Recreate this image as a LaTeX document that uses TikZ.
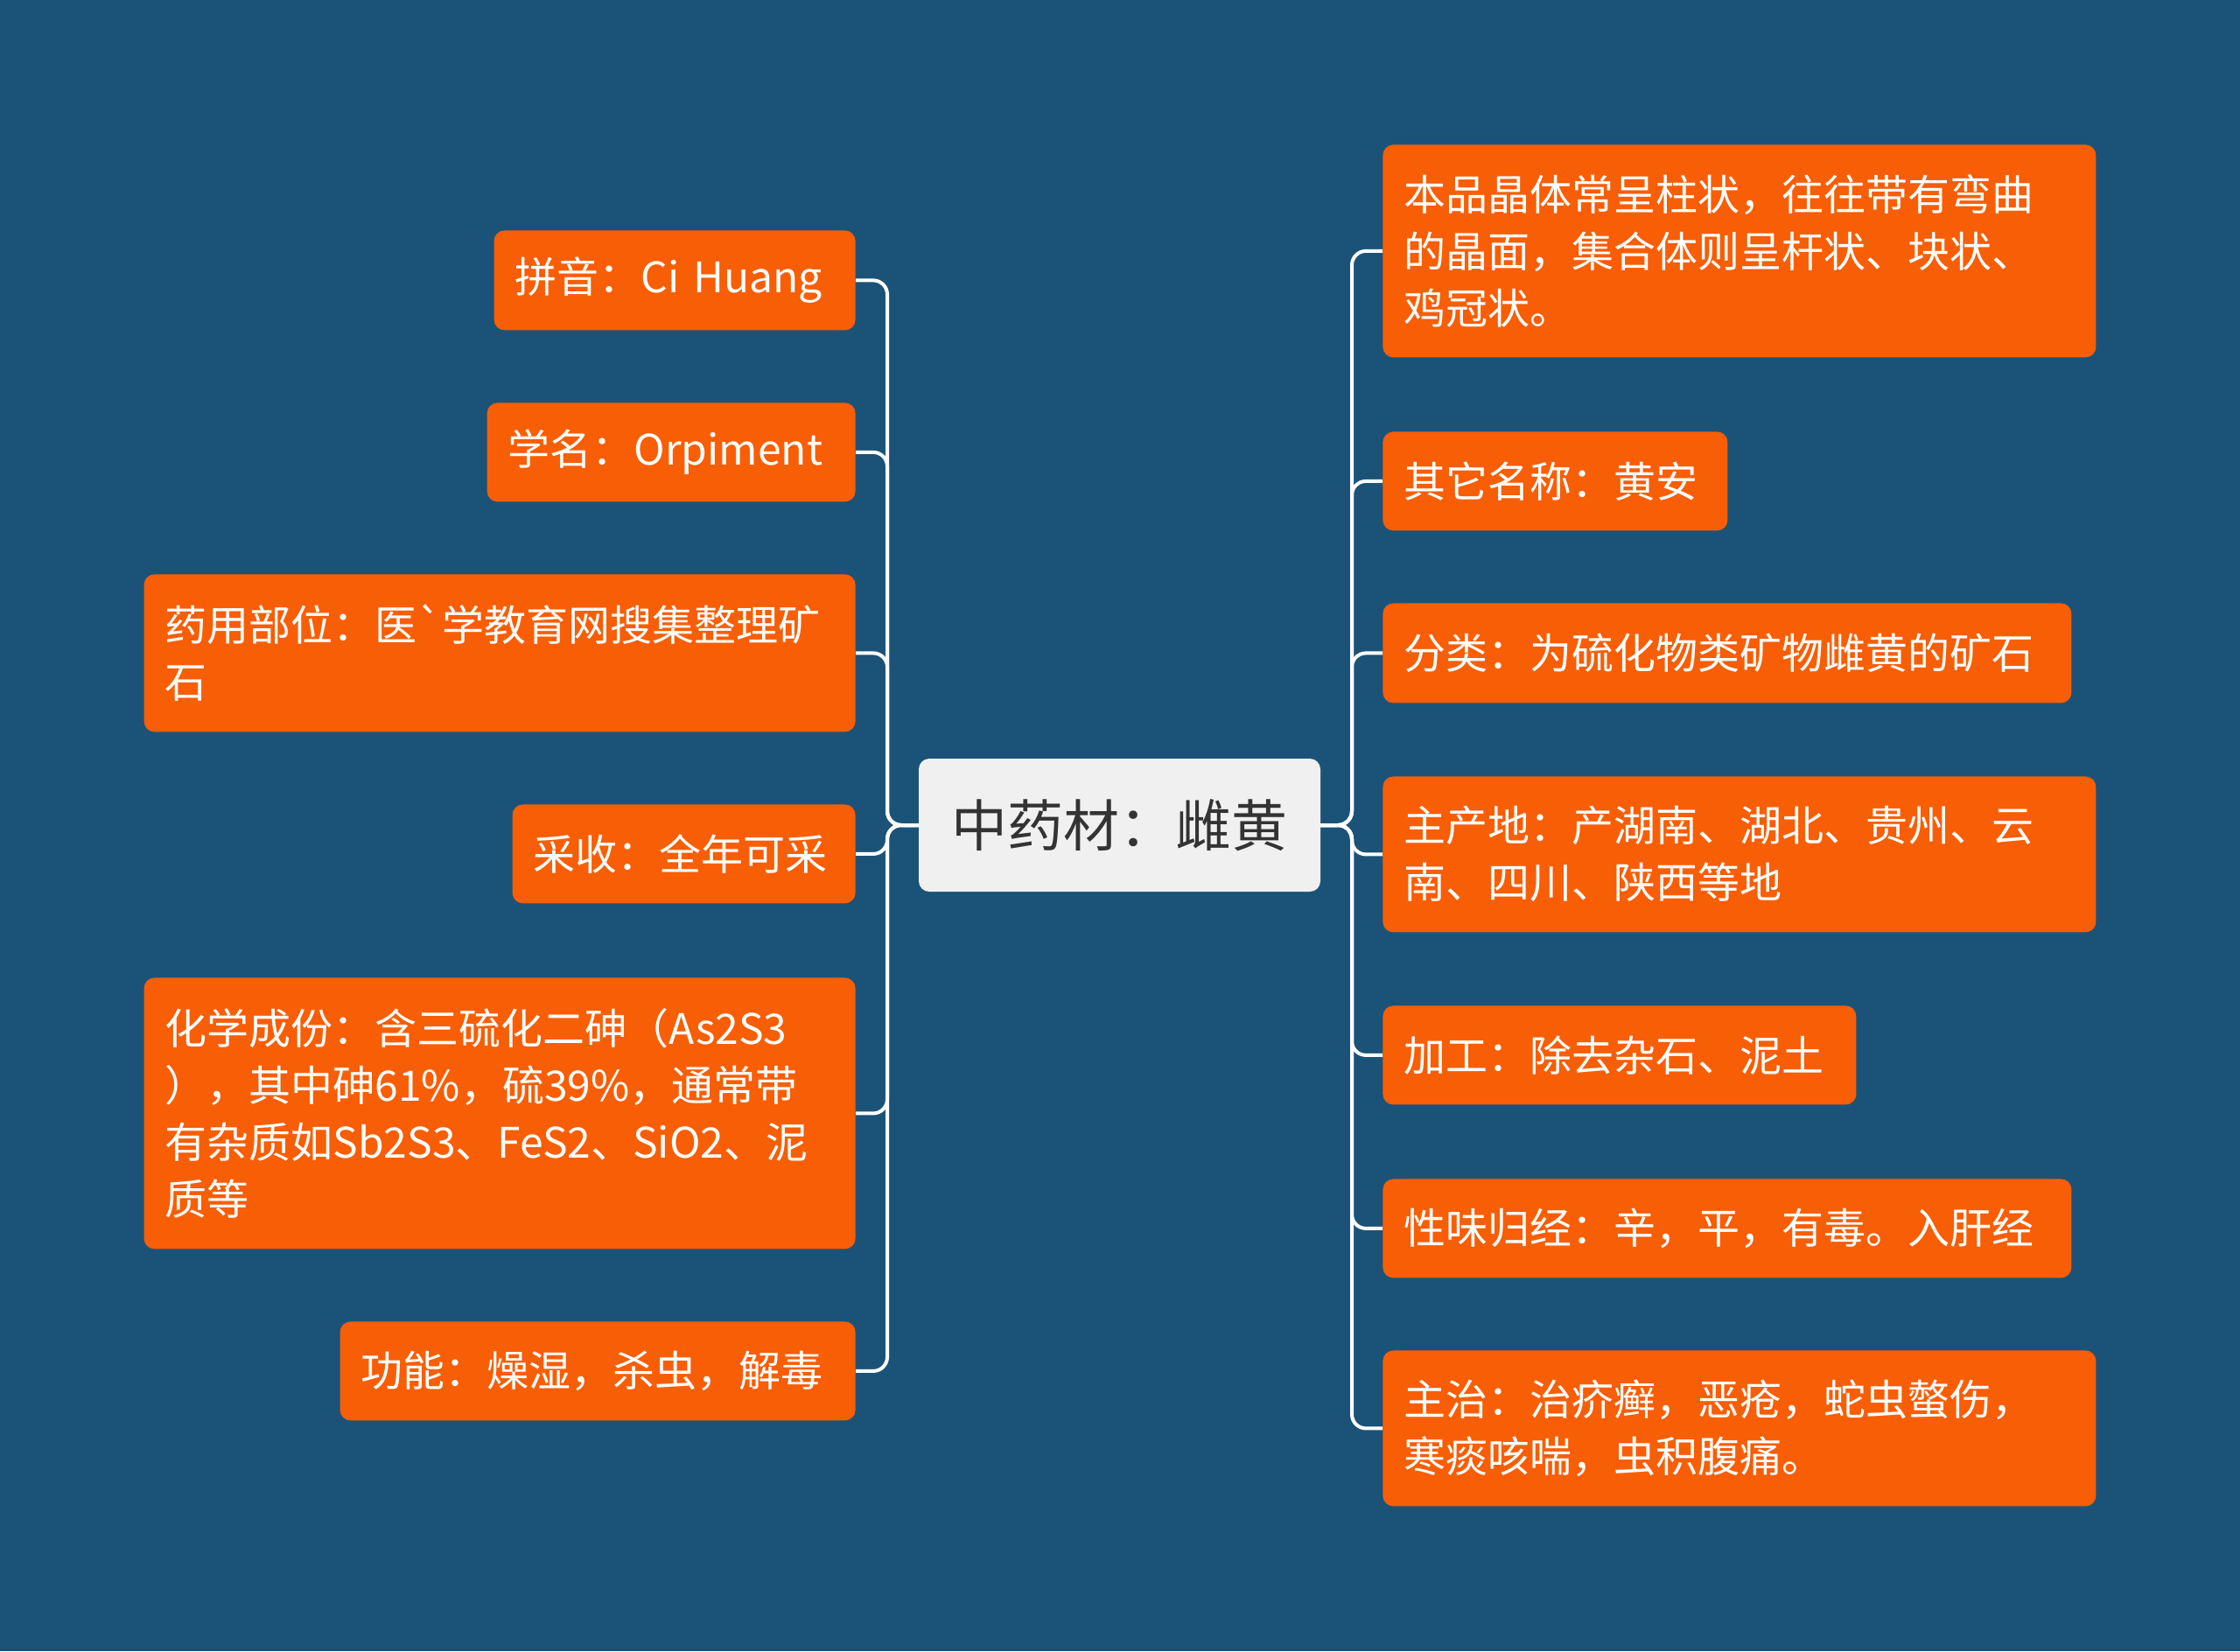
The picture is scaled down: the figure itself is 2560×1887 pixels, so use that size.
\documentclass[tikz,border=0pt]{standalone}
\usepackage{fontspec}
\setmainfont{Noto Sans CJK SC}[Ligatures=TeXOff]
\definecolor{bgblue}{RGB}{27,83,120}
\definecolor{leafor}{RGB}{248,94,6}
\definecolor{centerfill}{RGB}{240,240,240}
\definecolor{centertext}{RGB}{51,51,51}
\begin{document}
\begin{tikzpicture}[x=0.5pt,y=-0.5pt,
  leaf/.style={fill=leafor, text=white, rounded corners=6pt, inner xsep=12pt, inner ysep=0pt,
    align=left, font=\fontsize{24pt}{32.5pt}\selectfont},
  centerbox/.style={fill=centerfill, text=centertext, rounded corners=6pt, inner sep=0pt,
    font=\fontsize{32pt}{38pt}\selectfont},
  link/.style={draw=white, line width=2pt, rounded corners=8pt}]
\fill[bgblue] (0,0) rectangle (2560,1887);
\useasboundingbox (0,0) rectangle (2560,1887);

\node[centerbox, minimum width=229.5pt, minimum height=76pt] (c) at (1279.5,943) {中药材：雌黄};

% left side
\node[leaf, anchor=north east, text width=182.5pt, minimum height=57pt] (l1) at (978,263) {拼音：Ci Huang};
\node[leaf, anchor=north east, text width=186.5pt, minimum height=56.5pt] (l2) at (978,460) {学名：Orpiment};
\node[leaf, anchor=north east, text width=382.5pt, minimum height=90pt] (l3) at (978,656) {药用部位：医`学教育网搜集整理矿\\石};
\node[leaf, anchor=north east, text width=172pt, minimum height=56.5pt] (l4) at (978,919) {采收：全年可采};
\node[leaf, anchor=north east, text width=382.5pt, minimum height=155pt] (l5) at (978,1117) {化学成份：含三硫化二砷（As2S3\\），其中砷61\%，硫39\%，通常带\\有杂质如Sb2S3、FeS2、SiO2、泥\\质等};
\node[leaf, anchor=north east, text width=270.5pt, minimum height=56.5pt] (l6) at (978,1510) {功能：燥湿，杀虫，解毒};

% right side
\node[leaf, anchor=north west, text width=383.5pt, minimum height=121.5pt] (r1) at (1580,165) {本品晶体常呈柱状，往往带有弯曲\\的晶面，集合体则呈杆状、块状、\\鸡冠状。};
\node[leaf, anchor=north west, text width=173pt, minimum height=56.5pt] (r2) at (1580,493) {其它名称：黄安};
\node[leaf, anchor=north west, text width=369.5pt, minimum height=57pt] (r3) at (1580,689) {分类：为硫化物类矿物雌黄的矿石};
\node[leaf, anchor=north west, text width=383.5pt, minimum height=89pt] (r4) at (1580,887) {主产地：产湖南、湖北、贵州、云\\南、四川、陕西等地};
\node[leaf, anchor=north west, text width=246.5pt, minimum height=56.5pt] (r5) at (1580,1149) {加工：除去杂石、泥土};
\node[leaf, anchor=north west, text width=369.5pt, minimum height=56.5pt] (r6) at (1580,1347) {性味归经：辛，平，有毒。入肝经};
\node[leaf, anchor=north west, text width=383.5pt, minimum height=89pt] (r7) at (1580,1543) {主治：治疥癣，恶疮，蛇虫螫伤，\\寒痰咳喘，虫积腹痛。};

\coordinate (lj) at (1014,943);
\coordinate (rj) at (1545,943);
\foreach \n in {l1,l2,l3,l4,l5,l6} \draw[link] (c.west) -- (lj) |- (\n.east);
\foreach \n in {r1,r2,r3,r4,r5,r6,r7} \draw[link] (c.east) -- (rj) |- (\n.west);
\end{tikzpicture}
\end{document}
